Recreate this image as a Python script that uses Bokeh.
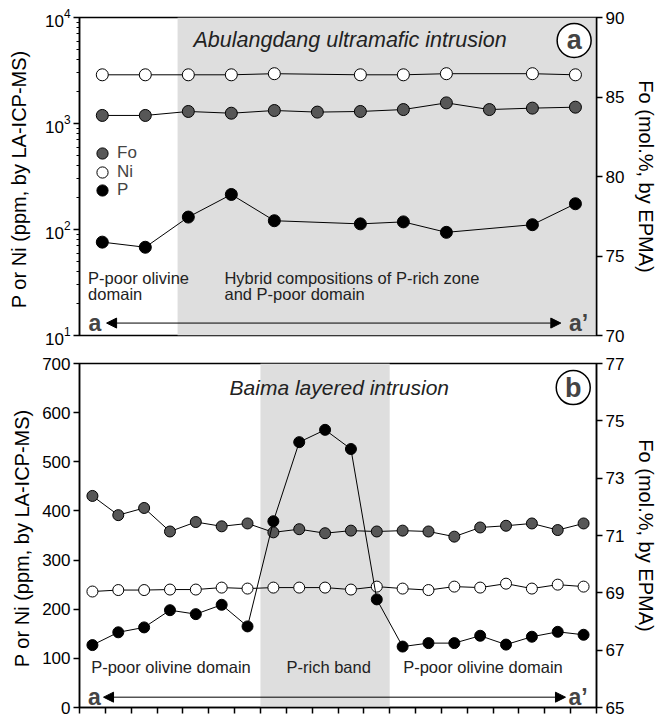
from bokeh.plotting import figure
from bokeh.models import (Range1d, LinearAxis, LinearScale, FixedTicker, BoxAnnotation,
                          Label, Arrow, NormalHead, Legend, LegendItem, CustomJSTickFormatter)
from bokeh.layouts import column
from bokeh.embed import file_html
from bokeh.resources import INLINE

FONT = "Liberation Sans"

# ---------------- data: panel (a) Abulangdang ----------------
a_index = list(range(12))
a_fo = [83.84, 83.84, 84.09, 83.98, 84.15, 84.05, 84.09, 84.21, 84.63, 84.21, 84.30, 84.36]
a_ni = [2880, 2880, 2880, 2880, 2950, None, 2880, 2880, 2950, None, 2950, 2880]
a_p = [76, 68, 131, 214, 121, None, 113, 118, 94, None, 111, 175]

# ---------------- data: panel (b) Baima ----------------
b_index = list(range(20))
b_fo = [72.38, 71.71, 71.96, 71.14, 71.47, 71.32, 71.42, 71.11, 71.22, 71.08,
        71.17, 71.14, 71.17, 71.14, 70.96, 71.28, 71.34, 71.42, 71.19, 71.42]
b_ni = [236, 239, 239, 240, 240, 244, 242, 244, 244, 244,
        240, 246, 242, 239, 246, 244, 252, 242, 250, 246]
b_p = [127, 153, 163, 198, 190, 209, 165, 379, 540, 565,
       526, 220, 124, 131, 131, 146, 128, 144, 154, 148]

a_left_ticks = [10, 100, 1000, 10000]
a_right_ticks = [70, 75, 80, 85, 90]
b_left_ticks = [0, 100, 200, 300, 400, 500, 600, 700]
b_right_ticks = [65, 67, 69, 71, 73, 75, 77]

FO_FILL = "#575757"
BAND = "#dedede"


def clean(xs, ys):
    pts = [(x, y) for x, y in zip(xs, ys) if y is not None]
    return [p[0] for p in pts], [p[1] for p in pts]


def style_axis(ax, size="17px"):
    ax.axis_line_color = "black"
    ax.axis_line_width = 1.5
    ax.major_tick_line_width = 1.5
    ax.major_tick_in = 0
    ax.major_tick_out = 6
    ax.minor_tick_in = 0
    ax.minor_tick_out = 3
    ax.major_label_text_font = FONT
    ax.major_label_text_font_size = size
    ax.major_label_text_color = "black"
    ax.major_label_standoff = 3
    ax.axis_label_text_font = FONT
    ax.axis_label_text_font_size = "20px"
    ax.axis_label_text_font_style = "normal"
    ax.axis_label_text_color = "black"


def series(p, xs, ys, fill, size, rng="default"):
    x, y = clean(xs, ys)
    p.line(x, y, line_color="black", line_width=1, y_range_name=rng)
    return p.scatter(x, y, size=size, fill_color=fill, line_color="black",
                     line_width=1, y_range_name=rng)


# ================= panel (a) =================
p1 = figure(width=663, height=349, y_axis_type="log",
            x_range=Range1d(-0.53, 11.49), y_range=Range1d(10, 10000),
            output_backend="svg", toolbar_location=None,
            min_border_left=79, min_border_right=67, min_border_top=17, min_border_bottom=14)
p1.extra_y_ranges = {"fo": Range1d(70, 90)}
p1.extra_y_scales = {"fo": LinearScale()}
p1.grid.visible = False
p1.xaxis.visible = False
p1.outline_line_color = "black"
p1.outline_line_width = 1.5
p1.background_fill_color = "white"

minor = [m * 10 ** e for e in range(1, 4) for m in range(2, 10)]
p1.yaxis[0].ticker = FixedTicker(ticks=a_left_ticks, minor_ticks=minor)
p1.yaxis[0].axis_label = "P or Ni  (ppm, by LA-ICP-MS)"
style_axis(p1.yaxis[0])
p1.yaxis[0].axis_label_standoff = 12

ra = LinearAxis(y_range_name="fo", ticker=FixedTicker(ticks=a_right_ticks),
                axis_label="Fo (mol.%, by EPMA)")
style_axis(ra)
ra.axis_label_standoff = 8
p1.add_layout(ra, "right")

p1.add_layout(BoxAnnotation(left=1.75, fill_color=BAND, fill_alpha=1, line_color=None,
                            level="underlay"))

r_ni = series(p1, a_index, a_ni, "white", 12)
r_fo = series(p1, a_index, a_fo, FO_FILL, 12, "fo")
r_p = series(p1, a_index, a_p, "black", 12)

# legend: one compact entry per row (rows ~18 px apart)
for name, rend, ypos in [("Fo", r_fo, 168), ("Ni", r_ni, 149), ("P", r_p, 131)]:
    p1.add_layout(Legend(items=[LegendItem(label=name, renderers=[rend])],
                         location=(9, ypos), border_line_color=None, background_fill_alpha=0,
                         label_text_font=FONT, label_text_font_size="17px",
                         glyph_height=28, glyph_width=28, padding=0, margin=0,
                         label_standoff=1, label_height=28))

p1.add_layout(Label(x=5.76, y=6070, text="Abulangdang ultramafic intrusion", text_font=FONT,
                    text_font_size="21.5px", text_font_style="italic", text_align="center",
                    text_baseline="middle", text_color="#222222"))
p1.scatter([10.97], [6070], size=34, fill_color="white", line_color="black", line_width=1.5)
p1.add_layout(Label(x=10.97, y=6070, text="a", text_font=FONT, text_font_size="27px",
                    text_font_style="bold", text_align="center", text_baseline="middle"))

p1.add_layout(Label(x=-0.33, y=35.2, text="P-poor olivine", text_font=FONT,
                    text_font_size="16.5px", text_baseline="middle", text_color="#222222"))
p1.add_layout(Label(x=-0.33, y=24.4, text="domain", text_font=FONT,
                    text_font_size="16.5px", text_baseline="middle", text_color="#222222"))
p1.add_layout(Label(x=2.84, y=35.2, text="Hybrid compositions of P-rich zone", text_font=FONT,
                    text_font_size="16.5px", text_baseline="middle", text_color="#222222"))
p1.add_layout(Label(x=2.84, y=24.4, text="and P-poor domain", text_font=FONT,
                    text_font_size="16.5px", text_baseline="middle", text_color="#222222"))

p1.add_layout(Arrow(x_start=0.1, y_start=13.1, x_end=10.66, y_end=13.1, line_width=1,
                    start=NormalHead(size=10, fill_color="black", line_color="black"),
                    end=NormalHead(size=10, fill_color="black", line_color="black")))
p1.add_layout(Label(x=-0.32, y=13.1, text="a", text_font=FONT, text_font_size="23px",
                    text_font_style="bold", text_baseline="middle"))
p1.add_layout(Label(x=10.85, y=13.1, text="a\u2019", text_font=FONT, text_font_size="23px",
                    text_font_style="bold", text_baseline="middle"))

# ================= panel (b) =================
p2 = figure(width=663, height=367,
            x_range=Range1d(-0.5, 19.5), y_range=Range1d(0, 700),
            output_backend="svg", toolbar_location=None,
            min_border_left=79, min_border_right=67, min_border_top=14, min_border_bottom=9)
p2.extra_y_ranges = {"fo": Range1d(65, 77)}
p2.grid.visible = False
p2.outline_line_color = "black"
p2.outline_line_width = 1.5

p2.yaxis[0].ticker = FixedTicker(ticks=b_left_ticks)
p2.yaxis[0].axis_label = "P or Ni  (ppm, by LA-ICP-MS)"
style_axis(p2.yaxis[0])
p2.yaxis[0].axis_label_standoff = 6

p2.xaxis[0].ticker = FixedTicker(ticks=[i - 0.5 for i in range(len(b_index) + 1)])
style_axis(p2.xaxis[0])
p2.xaxis[0].formatter = CustomJSTickFormatter(code="return ''")
p2.xaxis[0].major_label_standoff = 0

rb = LinearAxis(y_range_name="fo", ticker=FixedTicker(ticks=b_right_ticks),
                axis_label="Fo (mol.%, by EPMA)")
style_axis(rb)
rb.axis_label_standoff = 8
p2.add_layout(rb, "right")

p2.add_layout(BoxAnnotation(left=6.5, right=11.5, fill_color=BAND, fill_alpha=1,
                            line_color=None, level="underlay"))

series(p2, b_index, b_ni, "white", 11)
series(p2, b_index, b_fo, FO_FILL, 11, "fo")
series(p2, b_index, b_p, "black", 11)

p2.add_layout(Label(x=9.55, y=652, text="Baima layered intrusion", text_font=FONT,
                    text_font_size="21px", text_font_style="italic", text_align="center",
                    text_baseline="middle", text_color="#222222"))
p2.scatter([18.6], [651], size=34, fill_color="white", line_color="black", line_width=1.5)
p2.add_layout(Label(x=18.6, y=651, text="b", text_font=FONT, text_font_size="27px",
                    text_font_style="bold", text_align="center", text_baseline="middle"))

p2.add_layout(Label(x=-0.05, y=82, text="P-poor olivine domain", text_font=FONT,
                    text_font_size="16.5px", text_baseline="middle", text_color="#222222"))
p2.add_layout(Label(x=9.14, y=82, text="P-rich band", text_font=FONT,
                    text_font_size="16.5px", text_baseline="middle", text_align="center",
                    text_color="#222222"))
p2.add_layout(Label(x=12.02, y=82, text="P-poor olivine domain", text_font=FONT,
                    text_font_size="16.5px", text_baseline="middle", text_color="#222222"))

p2.add_layout(Arrow(x_start=0.43, y_start=21, x_end=18.3, y_end=21, line_width=1,
                    start=NormalHead(size=10, fill_color="black", line_color="black"),
                    end=NormalHead(size=10, fill_color="black", line_color="black")))
p2.add_layout(Label(x=-0.17, y=21, text="a", text_font=FONT, text_font_size="23px",
                    text_font_style="bold", text_baseline="middle"))
p2.add_layout(Label(x=18.42, y=21, text="a\u2019", text_font=FONT, text_font_size="23px",
                    text_font_style="bold", text_baseline="middle"))

layout = column(p1, p2)
open("out.html", "w").write(file_html(layout, INLINE))
